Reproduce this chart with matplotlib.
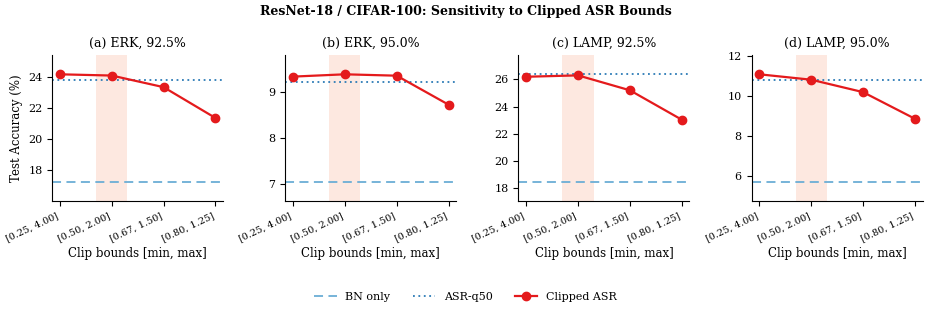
import numpy as np
import matplotlib.pyplot as plt

plt.rcParams["font.family"] = "DejaVu Serif"
plt.rcParams["font.size"] = 8

clip_labels = ["[0.25, 4.00]", "[0.50, 2.00]", "[0.67, 1.50]", "[0.80, 1.25]"]
panel_titles = ["(a) ERK, 92.5%", "(b) ERK, 95.0%", "(c) LAMP, 92.5%", "(d) LAMP, 95.0%"]

# Clipped ASR accuracy per clip setting
clipped_asr = [
    [24.20, 24.12, 23.37, 21.38],
    [9.33, 9.38, 9.35, 8.72],
    [26.20, 26.30, 25.20, 23.03],
    [11.10, 10.83, 10.21, 8.88],
]
asr_q50 = [23.83, 9.21, 26.38, 10.80]
bn_only = [17.27, 7.05, 18.46, 5.74]
best_idx = 1  # highlighted clip setting

fig, axes = plt.subplots(1, 4, figsize=(9.31, 3.09), dpi=100)
fig.subplots_adjust(left=0.056, right=0.991, bottom=0.35, top=0.822, wspace=0.363)

x = np.arange(len(clip_labels))
for i, ax in enumerate(axes):
    ax.axvspan(best_idx - 0.3, best_idx + 0.3, color="#fde3d9", alpha=0.8, lw=0, zorder=0)
    ax.axhline(bn_only[i], color="#6baed6", ls=(0, (5, 3)), lw=1.3, label="BN only")
    ax.axhline(asr_q50[i], color="#2c7bb6", ls=(0, (1, 2)), lw=1.3, label="ASR-q50")
    ax.plot(x, clipped_asr[i], color="#e41a1c", marker="o", ms=6, lw=1.6,
            label="Clipped ASR", zorder=3)

    lo = min(min(clipped_asr[i]), bn_only[i], asr_q50[i])
    hi = max(max(clipped_asr[i]), bn_only[i], asr_q50[i])
    pad = 0.18 * (hi - lo)
    ax.set_ylim(lo - pad, hi + pad)
    ax.set_xlim(-0.15, 3.15)

    ax.set_xticks(x)
    ax.set_xticklabels(clip_labels, rotation=25, ha="right", fontsize=7)
    ax.tick_params(axis="y", labelsize=8)
    ax.set_xlabel("Clip bounds [min, max]", fontsize=8.5, labelpad=3)
    ax.set_title(panel_titles[i], fontsize=9)
    ax.spines["top"].set_visible(False)
    ax.spines["right"].set_visible(False)

axes[0].set_ylabel("Test Accuracy (%)", fontsize=8.5)

fig.suptitle("ResNet-18 / CIFAR-100: Sensitivity to Clipped ASR Bounds",
             fontsize=9, fontweight="bold", y=0.985)

handles, labels = axes[0].get_legend_handles_labels()
fig.legend(handles, labels, loc="lower center", bbox_to_anchor=(0.5, -0.01),
           ncol=3, frameon=False, fontsize=8, columnspacing=2.0)

fig.savefig("out.png", dpi=100)
